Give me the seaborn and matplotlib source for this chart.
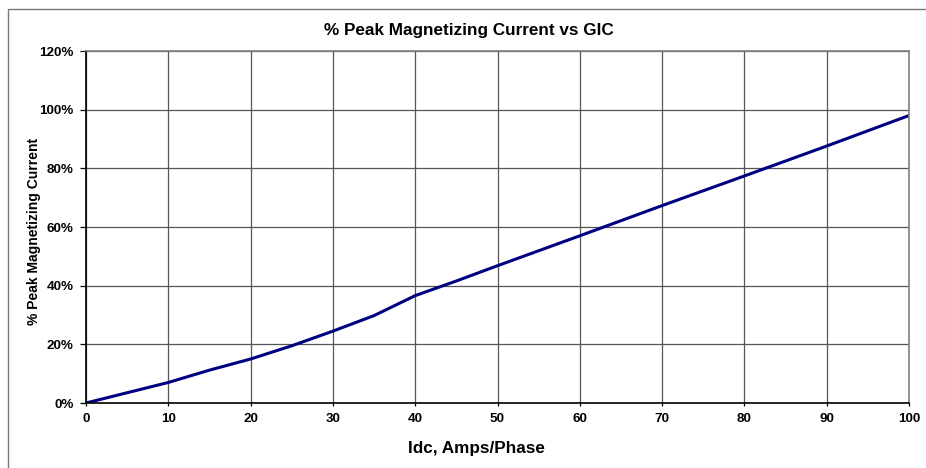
import matplotlib
matplotlib.use("Agg")
import matplotlib.pyplot as plt
import seaborn as sns
import pandas as pd
from matplotlib.patches import Rectangle
from matplotlib.ticker import FuncFormatter

idc = [0, 5, 10, 15, 20, 25, 30, 35, 40, 45, 50, 60, 70, 80, 90, 100]
pct = [0.0, 3.5, 7.0, 11.2, 15.0, 19.5, 24.5, 29.8, 36.6, 41.6, 46.8, 57.0, 67.3, 77.4, 87.6, 98.0]
x_ticks = [0, 10, 20, 30, 40, 50, 60, 70, 80, 90, 100]
y_ticks = [0, 20, 40, 60, 80, 100, 120]

title = "% Peak Magnetizing Current vs GIC"
xlabel = "Idc, Amps/Phase"
ylabel = "% Peak Magnetizing Current"

sns.set_theme(style="white")
plt.rcParams['font.family'] = ['Liberation Sans', 'DejaVu Sans']
plt.rcParams['text.color'] = 'black'

W, H = 926, 468
fig = plt.figure(figsize=(W / 100, H / 100), dpi=100)
ax = fig.add_axes([86 / W, 1 - 403 / H, (909 - 86) / W, (403 - 51) / H])

df = pd.DataFrame({"Idc": idc, "pct": pct})
sns.lineplot(data=df, x="Idc", y="pct", ax=ax, color="#000080", linewidth=2.2, sort=True)

ax.set_xlim(0, 100)
ax.set_ylim(0, 120)
ax.set_xticks(x_ticks)
ax.set_yticks(y_ticks)
ax.yaxis.set_major_formatter(FuncFormatter(lambda v, p: f"{int(v)}%"))
ax.grid(True, color="#555555", linewidth=0.9)
ax.set_axisbelow(True)
ax.set_xlabel("")
ax.set_ylabel("")

for lab in ax.get_xticklabels() + ax.get_yticklabels():
    lab.set_fontweight("bold")
    lab.set_fontsize(9.7)
    lab.set_color("black")
ax.tick_params(axis="y", direction="out", length=4, width=0.9, color="black", labelcolor="black", pad=5, left=True)
ax.tick_params(axis="x", direction="out", length=2, width=0.9, color="black", labelcolor="black", pad=5, bottom=True)

for side in ["left", "bottom"]:
    ax.spines[side].set_color("black")
    ax.spines[side].set_linewidth(1.2)
for side in ["right", "top"]:
    ax.spines[side].set_color("#808080")
    ax.spines[side].set_linewidth(1.2)

fig.text(469 / W, 1 - 31 / H, title, ha="center", va="center", fontsize=12.3, fontweight="bold", color="black")
fig.text(476 / W, 1 - 448 / H, xlabel, ha="center", va="center", fontsize=12.3, fontweight="bold", color="black")
fig.text(34 / W, 1 - 231 / H, ylabel, ha="center", va="center", rotation=90, fontsize=10, fontweight="bold", color="black")

fig.patches.append(Rectangle((8 / W, -0.1), 1.2, 1 - 9 / H + 0.1, transform=fig.transFigure,
                             fill=False, edgecolor="#777777", linewidth=1.0))

fig.savefig("out.png", dpi=100)
